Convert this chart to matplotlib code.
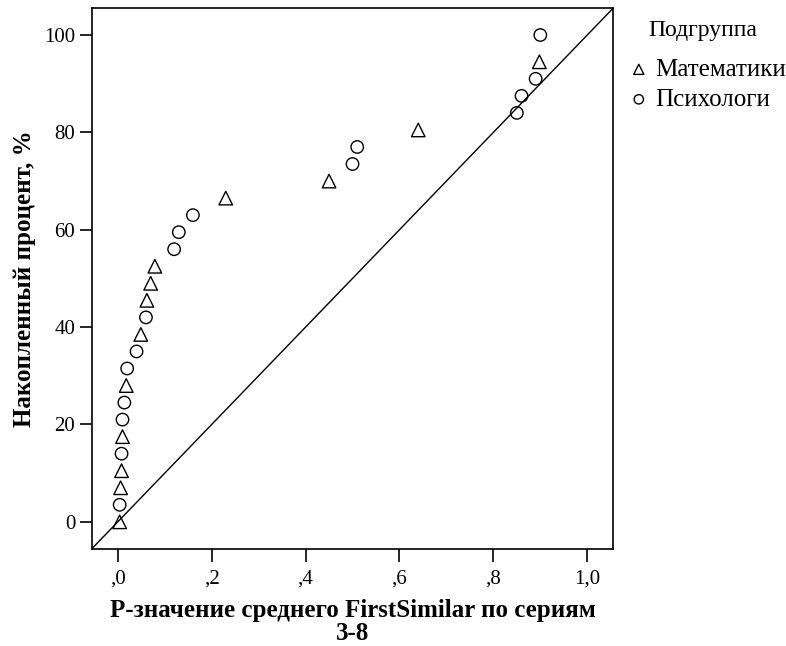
import matplotlib
matplotlib.use("Agg")
import matplotlib.pyplot as plt
import numpy as np

plt.rcParams['font.family'] = ['Liberation Serif', 'DejaVu Serif']

# данные: P-значение и накопленный процент
math_p = [0.004, 0.006, 0.008, 0.010, 0.018, 0.049, 0.062, 0.070, 0.079, 0.230, 0.450, 0.640, 0.898]
math_cum = [0, 7, 10.5, 17.5, 28, 38.5, 45.5, 49, 52.5, 66.5, 70, 80.5, 94.5]
psy_p = [0.004, 0.008, 0.010, 0.014, 0.020, 0.040, 0.060, 0.120, 0.130, 0.160, 0.500, 0.510, 0.850, 0.860, 0.890, 0.900]
psy_cum = [3.5, 14, 21, 24.5, 31.5, 35, 42, 56, 59.5, 63, 73.5, 77, 84, 87.5, 91, 100]
xticks = [0.0, 0.2, 0.4, 0.6, 0.8, 1.0]
xtick_labels = [',0', ',2', ',4', ',6', ',8', '1,0']
yticks = [0, 20, 40, 60, 80, 100]

fig = plt.figure(figsize=(7.86, 6.46), dpi=100)
ax = fig.add_axes([0.117, 0.150, 0.663, 0.838])

xmin, xmax = -0.055, 1.055
ymin, ymax = -5.6, 105.6
# диагональ
ax.plot([xmin, xmax], [100 * xmin, 100 * xmax], color='black', lw=1)

ax.scatter(math_p, math_cum, marker='^', s=95, facecolors='none', edgecolors='black', linewidths=1,
           label='Математики')
ax.scatter(psy_p, psy_cum, marker='o', s=80, facecolors='none', edgecolors='black', linewidths=1,
           label='Психологи')

ax.set_xlim(xmin, xmax)
ax.set_ylim(ymin, ymax)
ax.set_xticks(xticks)
ax.set_xticklabels(xtick_labels)
ax.set_yticks(yticks)
ax.tick_params(direction='out', length=9, width=1.2, labelsize=15, colors='black')
ax.tick_params(axis='x', pad=6)
ax.tick_params(axis='y', pad=3)
for s in ax.spines.values():
    s.set_linewidth(1.2)

ax.set_xlabel('Р-значение среднего FirstSimilar по сериям\n3-8', fontsize=18, fontweight='bold',
              linespacing=0.95, va='top')
ax.xaxis.set_label_coords(0.5, -0.093)
ax.set_ylabel('Накопленный процент, %', fontsize=18, fontweight='bold', va='center')
ax.yaxis.set_label_coords(-0.13, 0.5)

# легенда: заголовок отдельно
fig.text(0.894, 0.953, 'Подгруппа', ha='center', va='center', fontsize=17)
leg = ax.legend(loc='center left', bbox_to_anchor=(0.8, 0.869), bbox_transform=fig.transFigure,
                frameon=False, fontsize=18, markerscale=0.75, handletextpad=0.25,
                borderaxespad=0.0, borderpad=0.0, labelspacing=0.3, handlelength=0.8)

fig.savefig('out.png', dpi=100)
